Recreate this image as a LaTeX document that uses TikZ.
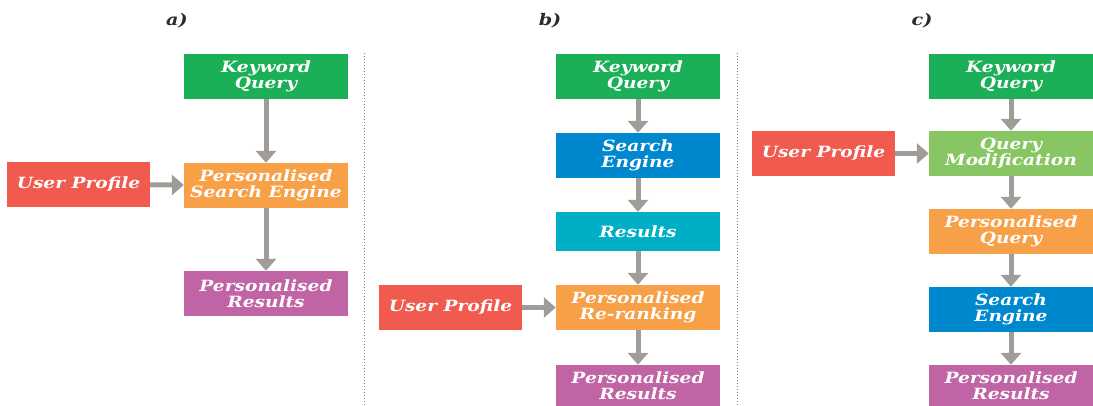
\documentclass[tikz,border=0pt]{standalone}
\usepackage{fontspec}
\setmainfont[FakeStretch=1.2]{DejaVu Serif}
\usetikzlibrary{arrows.meta}
\definecolor{cgreen}{HTML}{1BAF57}
\definecolor{corange}{HTML}{F7A047}
\definecolor{cred}{HTML}{F05A4F}
\definecolor{cpurple}{HTML}{C064A5}
\definecolor{cblue}{HTML}{0088CF}
\definecolor{ccyan}{HTML}{00AFC6}
\definecolor{clgreen}{HTML}{87C663}
\definecolor{carrow}{HTML}{A09C98}
\definecolor{clabel}{HTML}{2B2B2B}
\tikzset{
  box/.style={draw=none, text=white, minimum width=164pt, minimum height=45pt, inner sep=0pt, align=center,
    font=\fontsize{15.5}{16}\selectfont\bfseries\itshape},
  upbox/.style={box, fill=cred, minimum width=143pt},
  flow/.style={carrow, line width=5pt, -{Triangle[width=20pt,length=12pt]}},
  sep/.style={draw=gray, line width=1pt, dotted},
  plabel/.style={text=clabel, font=\fontsize{16}{17}\selectfont\bfseries\itshape}
}
\begin{document}
\begin{tikzpicture}[x=1pt,y=-1pt]
\useasboundingbox (0,0) rectangle (1093,406);
% labels
\node[plabel] (la) at (177,21) {a)};
\node[plabel] (lb) at (550,21) {b)};
\node[plabel] (lc) at (922,21) {c)};
% separators
\coordinate (s1t) at (364,53); \coordinate (s1b) at (364,406);
\coordinate (s2t) at (737,53); \coordinate (s2b) at (737,406);
\draw[sep] (s1t) -- (s1b);
\draw[sep] (s2t) -- (s2b);
% panel a
\node[box, fill=cgreen] (kqa) at (266,76.5) {Keyword\\Query};
\node[box, fill=corange] (psea) at (266,185.5) {Personalised\\Search Engine};
\node[upbox] (upa) at (78.5,184.5) {User Profile};
\node[box, fill=cpurple] (pra) at (266,293.5) {Personalised\\Results};
\draw[flow] (kqa) -- (psea);
\draw[flow] (upa) -- (psea);
\draw[flow] (psea) -- (pra);
% panel b
\node[box, fill=cgreen] (kqb) at (638,76.5) {Keyword\\Query};
\node[box, fill=cblue] (seb) at (638,155.5) {Search\\Engine};
\node[box, fill=ccyan, minimum height=39pt] (resb) at (638,231.5) {Results};
\node[box, fill=corange] (prrb) at (638,307.5) {Personalised\\Re-ranking};
\node[upbox] (upb) at (450.5,307.5) {User Profile};
\node[box, fill=cpurple, minimum height=41pt] (prb) at (638,385.5) {Personalised\\Results};
\draw[flow] (kqb) -- (seb);
\draw[flow] (seb) -- (resb);
\draw[flow] (resb) -- (prrb);
\draw[flow] (upb) -- (prrb);
\draw[flow] (prrb) -- (prb);
% panel c
\node[box, fill=cgreen] (kqc) at (1011,76.5) {Keyword\\Query};
\node[box, fill=clgreen] (qmc) at (1011,153.5) {Query\\Modification};
\node[upbox] (upc) at (823.5,153.5) {User Profile};
\node[box, fill=corange] (pqc) at (1011,231.5) {Personalised\\Query};
\node[box, fill=cblue] (sec) at (1011,309.5) {Search\\Engine};
\node[box, fill=cpurple, minimum height=41pt] (prc) at (1011,385.5) {Personalised\\Results};
\draw[flow] (kqc) -- (qmc);
\draw[flow] (upc) -- (qmc);
\draw[flow] (qmc) -- (pqc);
\draw[flow] (pqc) -- (sec);
\draw[flow] (sec) -- (prc);
\end{tikzpicture}
\end{document}
